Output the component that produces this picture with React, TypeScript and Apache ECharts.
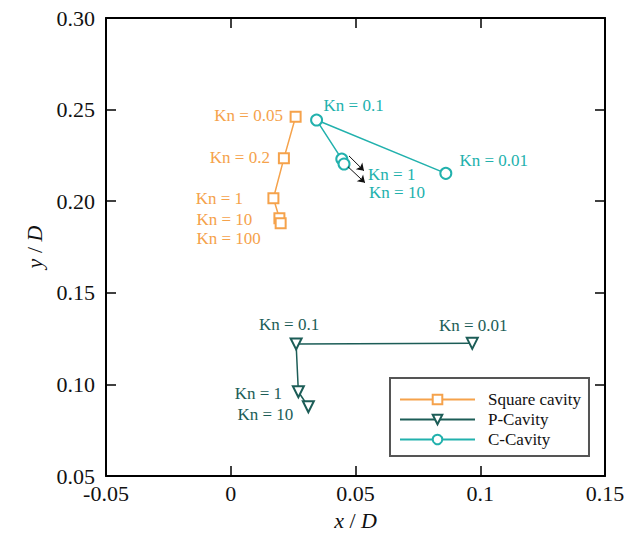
import React, { useEffect, useRef } from "react";
import * as echarts from "echarts";

// ---- data ----
const squareKn = ["0.05", "0.2", "1", "10", "100"];
const squareX = [0.026, 0.0213, 0.0171, 0.0195, 0.02];
const squareY = [0.2461, 0.2234, 0.2016, 0.1907, 0.1879];

const pKn = ["0.01", "0.1", "1", "10"];
const pX = [0.0968, 0.0262, 0.0271, 0.0311];
const pY = [0.1224, 0.1221, 0.096, 0.0878];

const cKn = ["0.01", "0.1", "1", "10"];
const cX = [0.0862, 0.0344, 0.0445, 0.0454];
const cY = [0.2152, 0.2443, 0.223, 0.2203];

// arrows pointing from C-cavity Kn=1 / Kn=10 points to their labels
const arrowStart = [
  [0.0474, 0.2247],
  [0.047, 0.2188],
];
const arrowEnd = [
  [0.0534, 0.2166],
  [0.0538, 0.2101],
];

const xTicks = { min: -0.05, max: 0.15, interval: 0.05 };
const yTicks = { min: 0.05, max: 0.3, interval: 0.05 };

// ---- style ----
const FONT = "Liberation Serif";
const ORANGE = "#F5A24B";
const DARK = "#1C5D57";
const TEAL = "#22B1AD";

const squareLabelOffset = [
  [-47, -1],
  [-44, -1],
  [-54, 0],
  [-55, 1],
  [-52, 15],
];
const pLabelOffset = [
  [1, -18],
  [-7, -19],
  [-40, 2],
  [-43, 8],
];
const cLabelOffset = [
  [48, -13],
  [37, -15],
  [50, 15],
  [53, 28],
];

function buildData(xs: number[], ys: number[], kns: string[], offs: number[][], color: string) {
  return xs.map((x, i) => ({
    value: [x, ys[i]],
    label: {
      show: true,
      position: "inside",
      offset: offs[i],
      formatter: "Kn = " + kns[i],
      color,
      fontSize: 17,
      lineHeight: 14,
      fontFamily: FONT,
    },
  }));
}

const fmt = (v: number) => String(parseFloat(v.toFixed(2)));

export default function App() {
  const ref = useRef<HTMLDivElement>(null);
  useEffect(() => {
    if (!ref.current) return;
    const chart = echarts.init(ref.current, undefined, { renderer: "svg" });
    const axisLine = { show: true, onZero: false, lineStyle: { color: "#000", width: 2 } };
    const axisTick = { show: true, inside: true, length: 10, lineStyle: { color: "#000", width: 1.5 } };
    chart.setOption({
      animation: false,
      backgroundColor: "#fff",
      grid: { left: 106, right: 29, top: 18, bottom: 61, containLabel: false },
      legend: {
        orient: "vertical",
        left: 390,
        top: 378,
        padding: [13, 8, 8, 9],
        borderColor: "#555",
        borderWidth: 2,
        itemWidth: 75,
        itemHeight: 12,
        itemGap: 3,
        textStyle: { fontFamily: FONT, fontSize: 17, color: "#111", lineHeight: 17, padding: [0, 0, 0, 8] },
        data: ["Square cavity", "P-Cavity", "C-Cavity"],
      },
      xAxis: [
        {
          type: "value",
          ...xTicks,
          position: "bottom",
          axisLine,
          axisTick,
          splitLine: { show: false },
          axisLabel: { formatter: fmt, fontFamily: FONT, fontSize: 22, color: "#111", margin: 6 },
          name: "{i|x} / {i|D}",
          nameLocation: "middle",
          nameGap: 33,
          nameTextStyle: {
            fontFamily: FONT,
            fontSize: 22,
            color: "#111",
            rich: { i: { fontFamily: FONT, fontSize: 22, fontStyle: "italic", color: "#111" } },
          },
        },
        {
          type: "value",
          ...xTicks,
          position: "top",
          axisLine,
          axisTick,
          splitLine: { show: false },
          axisLabel: { show: false },
        },
      ],
      yAxis: [
        {
          type: "value",
          ...yTicks,
          position: "left",
          axisLine,
          axisTick,
          splitLine: { show: false },
          axisLabel: {
            formatter: (v: number) => v.toFixed(2),
            fontFamily: FONT,
            fontSize: 22,
            lineHeight: 18,
            color: "#111",
            margin: 11,
          },
          name: "{i|y} / {i|D}",
          nameLocation: "middle",
          nameGap: 60,
          nameTextStyle: {
            fontFamily: FONT,
            fontSize: 22,
            color: "#111",
            rich: { i: { fontFamily: FONT, fontSize: 22, fontStyle: "italic", color: "#111" } },
          },
        },
        {
          type: "value",
          ...yTicks,
          position: "right",
          axisLine,
          axisTick,
          splitLine: { show: false },
          axisLabel: { show: false },
        },
      ],
      series: [
        {
          name: "Square cavity",
          type: "line",
          symbol: "emptyRect",
          symbolSize: 10,
          color: ORANGE,
          lineStyle: { color: ORANGE, width: 1.5 },
          itemStyle: { color: ORANGE, borderColor: ORANGE, borderWidth: 2 },
          data: buildData(squareX, squareY, squareKn, squareLabelOffset, ORANGE),
        },
        {
          name: "P-Cavity",
          type: "line",
          symbol: "emptyTriangle",
          symbolRotate: 180,
          symbolSize: 11,
          color: DARK,
          lineStyle: { color: DARK, width: 1.5 },
          itemStyle: { color: DARK, borderColor: DARK, borderWidth: 2 },
          data: buildData(pX, pY, pKn, pLabelOffset, DARK),
        },
        {
          name: "C-Cavity",
          type: "line",
          symbol: "emptyCircle",
          symbolSize: 11,
          color: TEAL,
          lineStyle: { color: TEAL, width: 1.5 },
          itemStyle: { color: TEAL, borderColor: TEAL, borderWidth: 2 },
          data: buildData(cX, cY, cKn, cLabelOffset, TEAL),
          markLine: {
            silent: true,
            symbol: ["none", "arrow"],
            symbolSize: 7,
            label: { show: false },
            lineStyle: { color: "#111", width: 1, type: "solid" },
            data: arrowStart.map((s, i) => [{ coord: s }, { coord: arrowEnd[i] }]),
          },
        },
      ],
    });
    return () => chart.dispose();
  }, []);
  return <div ref={ref} style={{ position: "fixed", left: 0, top: 0, width: 634, height: 537 }} />;
}
